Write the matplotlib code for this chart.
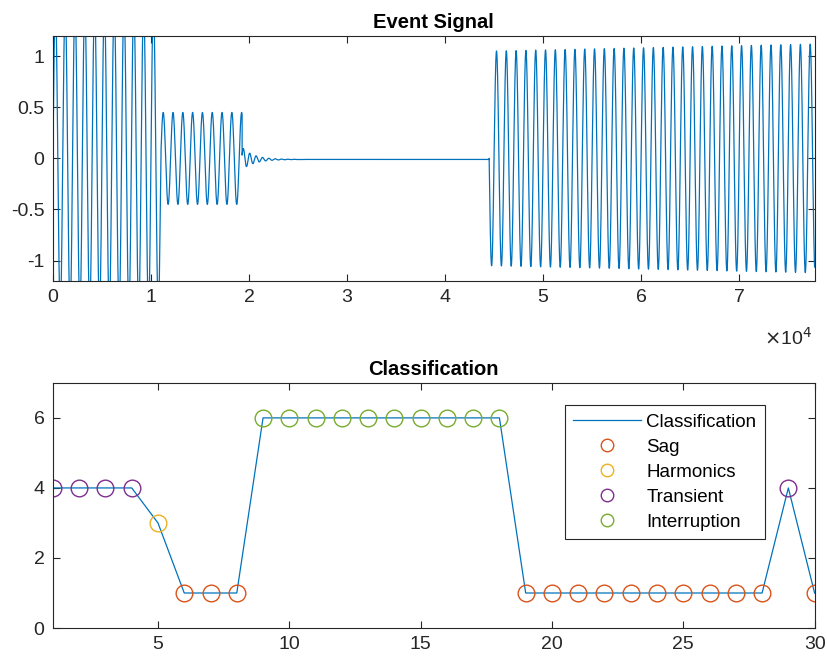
import numpy as np
import matplotlib.pyplot as plt

plt.rcParams['font.family'] = ['Liberation Sans', 'DejaVu Sans']

# ---------------------------------------------------------------------------
# Datos
# ---------------------------------------------------------------------------
n_samples = 77700
period = 1000                                   # muestras por ciclo

# tramos de la señal de evento: inicio, fin, amplitud inicial/final
seg_start = [0, 11000, 19300, 44500]
seg_end = [11000, 19300, 44500, 77700]
seg_amp0 = [1.5, 0.45, 0.11, 1.05]
seg_amp1 = [1.5, 0.45, 0.0, 1.12]
seg_sign = [1, 1, 1, -1]

# clasificación por ventana
windows = list(range(1, 31))
classes = [4, 4, 4, 4, 3, 1, 1, 1, 6, 6, 6, 6, 6, 6, 6, 6, 6, 6,
           1, 1, 1, 1, 1, 1, 1, 1, 1, 1, 4, 1]
class_names = ['Sag', 'Harmonics', 'Transient', 'Interruption']
class_ids = [1, 3, 4, 6]
class_colors = ['#D95319', '#EDB120', '#7E2F8E', '#77AC30']

# ---------------------------------------------------------------------------
# Construcción de la señal por tramos
# ---------------------------------------------------------------------------
t = np.arange(n_samples)
signal = np.zeros(n_samples)
for i, (a, b) in enumerate(zip(seg_start, seg_end)):
    tt = t[a:b]
    if i == 2:
        # oscilación amortiguada tras el hueco
        env = seg_amp0[i] * np.exp(-(tt - a) / 1200.0)
        signal[a:b] = env * np.sin(2 * np.pi * (tt - a) / 650.0 + 0.3) - 0.01 * (1 - np.exp(-(tt - a) / 800.0))
    else:
        env = np.linspace(seg_amp0[i], seg_amp1[i], b - a)
        signal[a:b] = seg_sign[i] * env * np.sin(2 * np.pi * (tt - a) / period)

line_c = '#0072BD'
axis_c = '#262626'

fig = plt.figure(figsize=(8.27, 6.59), dpi=100)

def style(ax):
    for s in ax.spines.values():
        s.set_color(axis_c)
        s.set_linewidth(0.8)
    ax.tick_params(direction='in', top=True, right=True, colors=axis_c,
                   labelsize=14, length=5, width=0.8, pad=6, labelcolor=axis_c)

# ---- Señal ---------------------------------------------------------------
ax1 = fig.add_axes([0.064, 0.5736, 0.921, 0.372])
ax1.plot(t, signal, color=line_c, lw=0.9)
ax1.set_xlim(0, n_samples)
ax1.set_ylim(-1.2, 1.2)
ax1.set_xticks(np.arange(0, 8) * 1e4)
ax1.set_xticklabels([str(k) for k in range(8)])
ax1.set_yticks([-1, -0.5, 0, 0.5, 1])
ax1.set_yticklabels(['-1', '-0.5', '0', '0.5', '1'])
ax1.set_title('Event Signal', fontsize=14.5, fontweight='bold', color='black', pad=6)
ax1.text(0.997, -0.233, r'$\times$10$^4$', transform=ax1.transAxes, ha='right',
         va='center', fontsize=14, color=axis_c)
style(ax1)

# ---- Clasificación -------------------------------------------------------
ax2 = fig.add_axes([0.064, 0.047, 0.921, 0.372])
ax2.plot(windows, classes, color=line_c, lw=0.9, label='Classification')
w_arr = np.array(windows)
c_arr = np.array(classes)
for name, cid, col in zip(class_names, class_ids, class_colors):
    m = c_arr == cid
    ax2.plot(w_arr[m], c_arr[m], 'o', ms=12, mfc='none', mec=col, mew=1.0,
             label=name)
ax2.set_xlim(1, 30)
ax2.set_ylim(0, 7)
ax2.set_xticks([5, 10, 15, 20, 25, 30])
ax2.set_yticks([0, 2, 4, 6])
ax2.set_title('Classification', fontsize=14.5, fontweight='bold', color='black', pad=6)
style(ax2)
leg = ax2.legend(loc='upper left', bbox_to_anchor=(0.672, 0.91), fontsize=13.5,
                 fancybox=False, framealpha=1, edgecolor=axis_c,
                 handlelength=3.6, borderpad=0.45, labelspacing=0.42,
                 handletextpad=0.3, borderaxespad=0)
leg.get_frame().set_linewidth(0.8)
for h in leg.legend_handles[1:]:
    h.set_markersize(9)

fig.savefig('out.png', dpi=100)
